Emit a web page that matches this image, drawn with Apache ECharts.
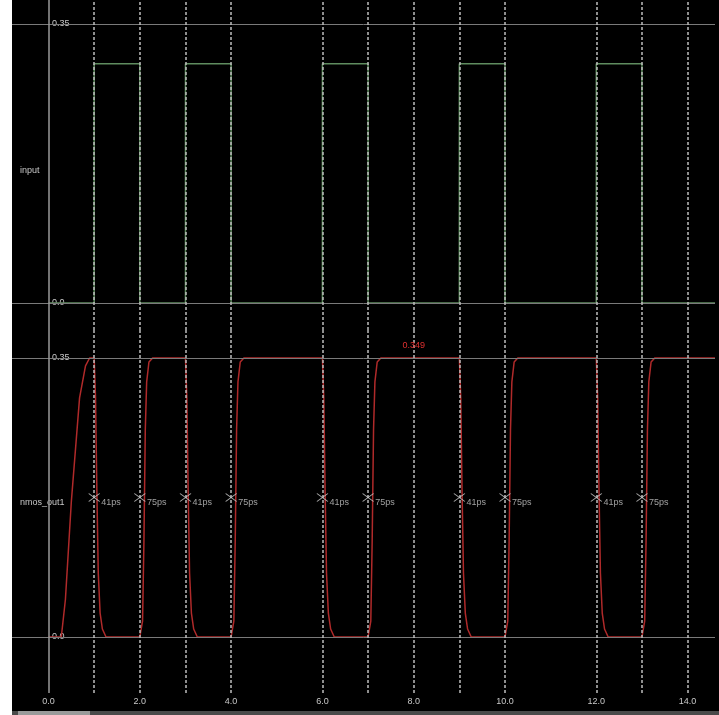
<!DOCTYPE html>
<html>
<head>
<meta charset="utf-8">
<script src="https://cdn.jsdelivr.net/npm/echarts@6/dist/echarts.min.js"></script>
<style>
html, body { margin: 0; background: #fff; }
#chart { position: absolute; left: 12px; top: 0; width: 707px; height: 715px; background: #000; }
</style>
</head>
<body>
<div id="chart"></div>
<script>
// input square wave (time, volts)
var inputT = [0, 1, 1, 2, 2, 3, 3, 4, 4, 6, 6, 7, 7, 9, 9, 10, 10, 12, 12, 13, 13, 14.6];
var inputV = [0, 0, 0.3, 0.3, 0, 0, 0.3, 0.3, 0, 0, 0.3, 0.3, 0, 0, 0.3, 0.3, 0, 0, 0.3, 0.3, 0, 0];

// nmos_out1: power-up ramp, then edge shapes
var startT = [0, 0.28, 0.37, 0.5, 0.68, 0.81, 0.9];
var startV = [0, 0, 0.047, 0.17, 0.3, 0.34, 0.35];
var fallTimes = [1, 3, 6, 9, 12];
var riseTimes = [2, 4, 7, 10, 13];
var fallDt = [0, 0.03, 0.06, 0.09, 0.13, 0.18, 0.26];
var fallV = [0.35, 0.30, 0.18, 0.08, 0.03, 0.01, 0];
var riseDt = [0, 0.06, 0.09, 0.12, 0.15, 0.2, 0.28];
var riseV = [0, 0.02, 0.12, 0.26, 0.32, 0.345, 0.35];
var endT = 14.6;

// cursors and measurements
var cursorTimes = [0, 1, 2, 3, 4, 6, 7, 8, 9, 10, 12, 13, 14];
var measTimes = [1, 2, 3, 4, 6, 7, 9, 10, 12, 13];
var measLabels = ['41ps', '75ps', '41ps', '75ps', '41ps', '75ps', '41ps', '75ps', '41ps', '75ps'];
var measLevel = 0.175;
var peakLabel = '0.349';
var peakT = 8;
var peakV = 0.35;

var xTicks = [0, 2, 4, 6, 8, 10, 12, 14];
var yTicks = [0, 0.35];

var inputData = inputT.map(function (t, i) { return [t, inputV[i]]; });

var outData = startT.map(function (t, i) { return [t, startV[i]]; });
var edges = [];
fallTimes.forEach(function (t) { edges.push({ t: t, dt: fallDt, v: fallV }); });
riseTimes.forEach(function (t) { edges.push({ t: t, dt: riseDt, v: riseV }); });
edges.sort(function (a, b) { return a.t - b.t; });
edges.forEach(function (e) {
    e.dt.forEach(function (d, i) { outData.push([e.t + d, e.v[i]]); });
});
outData.push([endT, 0.35]);

var measData = measTimes.map(function (t, i) {
    return { value: [t, measLevel], name: measLabels[i] };
});

var txt = '#c8c8c8';
var font = 'Liberation Sans';

var vLines = cursorTimes.map(function (t) {
    return {
        xAxis: t,
        lineStyle: t === 0
            ? { color: '#9a9a9a', type: 'solid', width: 1.5 }
            : { color: '#bdbdbd', type: [3, 2], width: 1.5 }
    };
});
var hLines = yTicks.map(function (v) { return { yAxis: v }; });

function yAxisOf(idx, min, max) {
    return {
        type: 'value', gridIndex: idx, min: min, max: max,
        axisLine: { show: false }, axisTick: { show: false }, splitLine: { show: false },
        axisLabel: {
            customValues: yTicks, inside: true, margin: 40,
            color: txt, fontSize: 9, fontFamily: font,
            formatter: function (v) { return v === 0 ? '0.0' : v.toFixed(2); }
        }
    };
}

var myChart = echarts.init(document.getElementById('chart'));

var option = {
    backgroundColor: '#000',
    animation: false,
    grid: [
        { left: 0, right: 4, top: 0, height: 330 },
        { left: 0, right: 4, top: 330, height: 363 }
    ],
    xAxis: [
        { type: 'value', gridIndex: 0, min: -0.8, max: 14.6,
          axisLine: { show: false }, axisTick: { show: false },
          axisLabel: { show: false }, splitLine: { show: false } },
        { type: 'value', gridIndex: 1, min: -0.8, max: 14.6,
          axisLine: { show: false }, axisTick: { show: false }, splitLine: { show: false },
          axisLabel: {
              customValues: xTicks, margin: 4, color: txt, fontSize: 9, fontFamily: font,
              formatter: function (v) { return v.toFixed(1); }
          } }
    ],
    yAxis: [
        yAxisOf(0, -0.0339, 0.380),
        yAxisOf(1, -0.0703, 0.3851)
    ],
    graphic: [
        { type: 'text', left: 8, top: 166, style: { text: 'input', fill: txt, fontSize: 9, fontFamily: font } },
        { type: 'text', left: 8, top: 498, style: { text: 'nmos_out1', fill: txt, fontSize: 9, fontFamily: font } },
        { type: 'rect', left: 0, top: 711, shape: { width: 707, height: 4 }, style: { fill: '#4a4a4a' } },
        { type: 'rect', left: 6, top: 711, shape: { width: 72, height: 4 }, style: { fill: '#9a9a9a' } }
    ],
    series: [
        // grid lines behind the traces
        { type: 'line', xAxisIndex: 0, yAxisIndex: 0, data: [], z: 1, silent: true,
          markLine: { silent: true, symbol: 'none', label: { show: false },
                      lineStyle: { color: '#7a7a7a', type: 'solid', width: 1 }, data: hLines } },
        { type: 'line', xAxisIndex: 1, yAxisIndex: 1, data: [], z: 1, silent: true,
          markLine: { silent: true, symbol: 'none', label: { show: false },
                      lineStyle: { color: '#7a7a7a', type: 'solid', width: 1 }, data: hLines } },
        {
            name: 'input', type: 'line', xAxisIndex: 0, yAxisIndex: 0, data: inputData,
            showSymbol: false, z: 2, lineStyle: { color: '#5f8c5f', width: 1.5 }
        },
        {
            name: 'nmos_out1', type: 'line', xAxisIndex: 1, yAxisIndex: 1, data: outData,
            showSymbol: false, z: 2, lineStyle: { color: '#b02a2a', width: 1.5 },
            markPoint: {
                symbol: 'circle', symbolSize: 1, itemStyle: { color: 'transparent' },
                label: { show: true, position: 'top', distance: 7, color: '#e03030',
                         fontSize: 9, fontFamily: font, formatter: peakLabel },
                data: [{ coord: [peakT, peakV] }]
            }
        },
        // cursor lines on top
        { type: 'line', xAxisIndex: 0, yAxisIndex: 0, data: [], z: 5, silent: true,
          markLine: { silent: true, symbol: 'none', label: { show: false }, data: vLines } },
        { type: 'line', xAxisIndex: 1, yAxisIndex: 1, data: [], z: 5, silent: true,
          markLine: { silent: true, symbol: 'none', label: { show: false }, data: vLines } },
        {
            name: 'delay', type: 'scatter', xAxisIndex: 1, yAxisIndex: 1, data: measData, z: 6,
            symbol: 'path://M0,0L5,4L0,8M10,0L5,4L10,8', symbolSize: [11, 8],
            itemStyle: { color: 'transparent', borderColor: '#d0d0d0', borderWidth: 1 },
            label: { show: true, position: 'right', distance: 1, offset: [0, 5],
                     color: txt, fontSize: 9, fontFamily: font,
                     formatter: function (p) { return p.name; } }
        }
    ]
};

myChart.setOption(option);
</script>
</body>
</html>
